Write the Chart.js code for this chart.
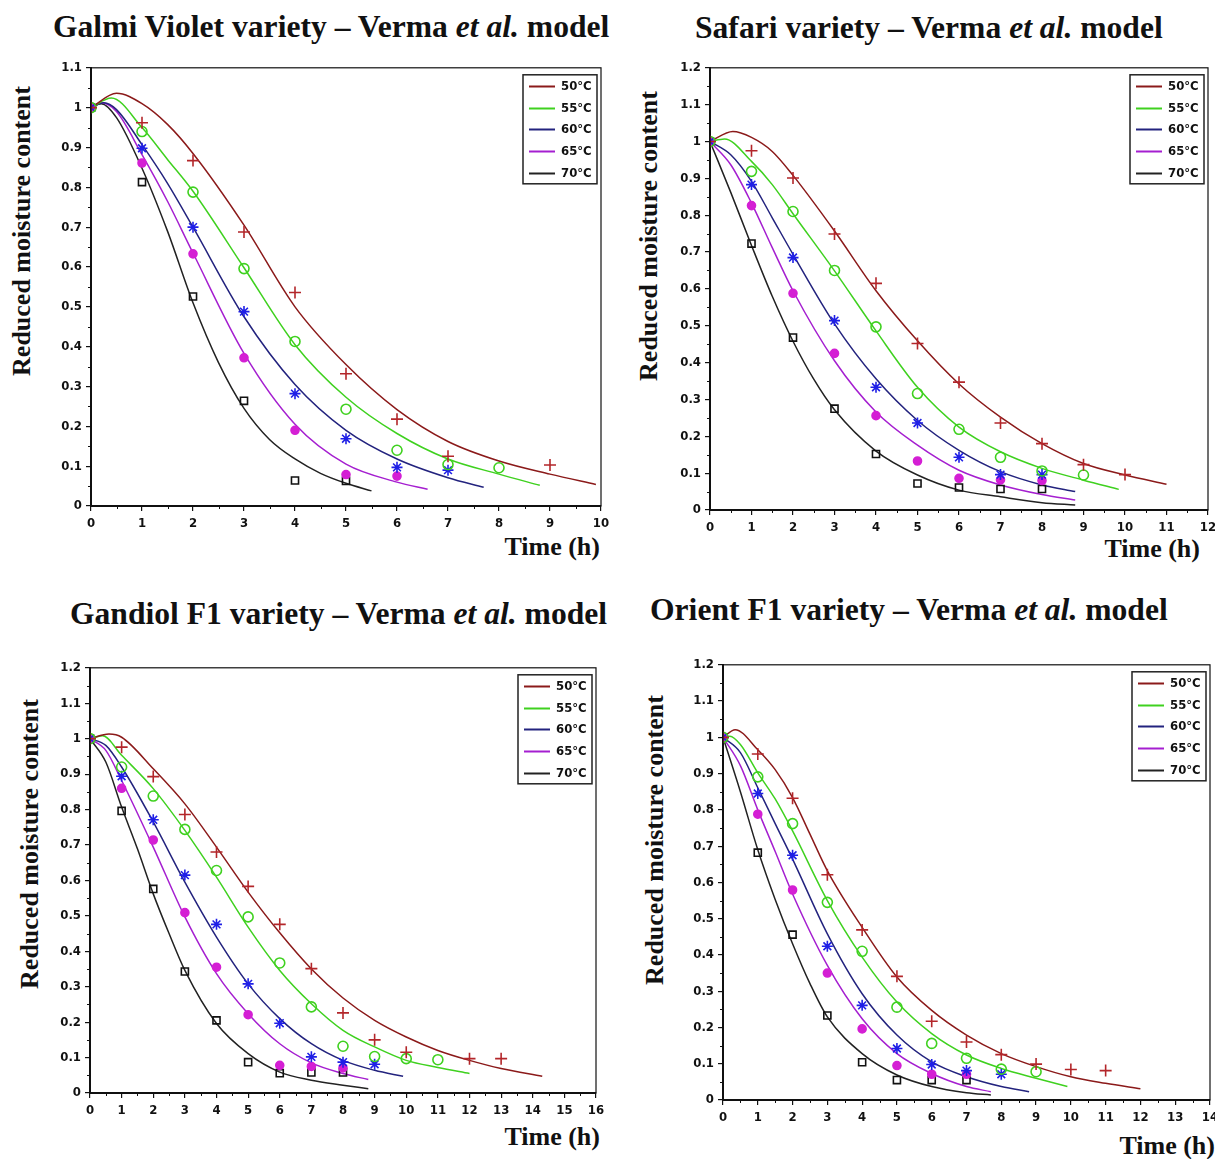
<!DOCTYPE html>
<html>
<head>
<meta charset="utf-8">
<script src="https://cdn.jsdelivr.net/npm/chart.js@4.4.1/dist/chart.umd.min.js"></script>
<style>
  body { margin: 0; background: #fff; width: 1215px; height: 1159px; position: relative; overflow: hidden; }
  canvas { position: absolute; }
  .title { position: absolute; font: bold 31.6px "Liberation Serif", "Times New Roman", serif; white-space: nowrap; color: #111; line-height: 1; }
  .ytitle { position: absolute; font: bold 26px "Liberation Serif", "Times New Roman", serif; white-space: nowrap; color: #111; line-height: 1;
            transform: translate(-50%, -50%) rotate(-90deg); }
  .xtitle { position: absolute; font: bold 26px "Liberation Serif", "Times New Roman", serif; white-space: nowrap; color: #111; line-height: 1; }
</style>
</head>
<body>
<div class="title" style="left:53px;top:11px">Galmi Violet variety – Verma <i>et al.</i> model</div>
<div class="title" style="left:695px;top:12px">Safari variety – Verma <i>et al.</i> model</div>
<div class="title" style="left:70px;top:598px">Gandiol F1 variety – Verma <i>et al.</i> model</div>
<div class="title" style="left:650px;top:594px">Orient F1 variety – Verma <i>et al.</i> model</div>

<div class="ytitle" style="left:22px;top:231px">Reduced moisture content</div>
<div class="ytitle" style="left:649px;top:236px">Reduced moisture content</div>
<div class="ytitle" style="left:30px;top:844px">Reduced moisture content</div>
<div class="ytitle" style="left:655px;top:840px">Reduced moisture content</div>

<div class="xtitle" style="right:615px;top:534px">Time (h)</div>
<div class="xtitle" style="right:15px;top:536px">Time (h)</div>
<div class="xtitle" style="right:615px;top:1124px">Time (h)</div>
<div class="xtitle" style="right:0px;top:1133px">Time (h)</div>

<canvas id="galmi"></canvas>
<canvas id="safari"></canvas>
<canvas id="gandiol"></canvas>
<canvas id="orient"></canvas>

<script>
// drying temperatures (legend)
const temps = [50, 55, 60, 65, 70];

// ---- Galmi Violet: measured points [time h, MR] ----
const galmiObs50 = [[0,1],[1,0.962],[2,0.867],[3,0.688],[4,0.536],[5,0.332],[6,0.218],[7,0.125],[9,0.103]];
const galmiObs55 = [[0,1],[1,0.94],[2,0.788],[3,0.596],[4,0.413],[5,0.243],[6,0.14],[7,0.104],[8,0.096]];
const galmiObs60 = [[0,1],[1,0.898],[2,0.70],[3,0.488],[4,0.282],[5,0.169],[6,0.097],[7,0.09]];
const galmiObs65 = [[0,1],[1,0.861],[2,0.633],[3,0.372],[4,0.19],[5,0.079],[6,0.075]];
const galmiObs70 = [[0,1],[1,0.813],[2,0.526],[3,0.264],[4,0.064],[5,0.063]];
// Galmi Violet: model curves
const galmiFit50 = [[0,1],[0.5,1.036],[1,1.01],[1.5,0.958],[2,0.885],[3,0.705],[4,0.5],[5,0.355],[6,0.242],[7,0.162],[8,0.113],[9,0.08],[9.9,0.054]];
const galmiFit55 = [[0,1],[0.4,1.024],[1,0.95],[1.5,0.87],[2,0.79],[3,0.598],[4,0.405],[5,0.273],[6,0.182],[7,0.118],[8,0.08],[8.8,0.052]];
const galmiFit60 = [[0,1],[0.25,1.012],[0.5,0.995],[1,0.907],[1.5,0.81],[2,0.7],[3,0.475],[4,0.305],[5,0.19],[6,0.118],[7,0.071],[7.7,0.047]];
const galmiFit65 = [[0,1],[0.2,1.012],[0.5,0.99],[1,0.882],[1.5,0.765],[2,0.635],[3,0.383],[4,0.205],[5,0.105],[6,0.06],[6.6,0.042]];
const galmiFit70 = [[0,1],[0.2,1.01],[0.5,0.975],[1,0.848],[1.5,0.69],[2,0.51],[2.5,0.36],[3,0.245],[3.5,0.167],[4,0.118],[4.5,0.082],[5,0.057],[5.5,0.038]];

// ---- Safari ----
const safariObs50 = [[0,1],[1,0.975],[2,0.901],[3,0.749],[4,0.615],[5,0.452],[6,0.347],[7,0.236],[8,0.18],[9,0.123],[10,0.096]];
const safariObs55 = [[0,1],[1,0.919],[2,0.81],[3,0.65],[4,0.497],[5,0.316],[6,0.219],[7,0.143],[8,0.106],[9,0.095]];
const safariObs60 = [[0,1],[1,0.883],[2,0.685],[3,0.514],[4,0.333],[5,0.236],[6,0.143],[7,0.096],[8,0.096]];
const safariObs65 = [[0,1],[1,0.826],[2,0.588],[3,0.425],[4,0.256],[5,0.133],[6,0.086],[7,0.082],[8,0.08]];
const safariObs70 = [[0,1],[1,0.723],[2,0.468],[3,0.275],[4,0.152],[5,0.072],[6,0.061],[7,0.057],[8,0.057]];
const safariFit50 = [[0,1],[0.55,1.027],[1,1.011],[1.5,0.973],[2,0.908],[3,0.757],[4,0.595],[5,0.459],[6,0.342],[7,0.252],[8,0.18],[9,0.126],[10,0.095],[11,0.07]];
const safariFit55 = [[0,1],[0.35,1.007],[1,0.946],[1.5,0.883],[2,0.804],[3,0.649],[4,0.486],[5,0.333],[6,0.225],[7,0.158],[8,0.113],[9,0.081],[9.85,0.056]];
const safariFit60 = [[0,1],[0.5,0.964],[1,0.892],[1.5,0.793],[2,0.694],[3,0.505],[4,0.356],[5,0.243],[6,0.162],[7,0.104],[8,0.068],[8.8,0.05]];
const safariFit65 = [[0,1],[0.5,0.937],[1,0.833],[1.5,0.712],[2,0.595],[3,0.405],[4,0.266],[5,0.176],[6,0.108],[7,0.068],[8,0.042],[8.8,0.027]];
const safariFit70 = [[0,1],[0.5,0.862],[1,0.718],[1.5,0.58],[2,0.458],[2.5,0.355],[3,0.272],[4,0.16],[5,0.095],[6,0.054],[7,0.036],[8,0.02],[8.8,0.0135]];

// ---- Gandiol F1 ----
const gandiolObs50 = [[0,1],[1,0.976],[2,0.893],[3,0.786],[4,0.68],[5,0.583],[6,0.476],[7,0.351],[8,0.226],[9,0.15],[10,0.115],[12,0.097],[13,0.097]];
const gandiolObs55 = [[0,1],[1,0.92],[2,0.838],[3,0.744],[4,0.628],[5,0.497],[6,0.367],[7,0.243],[8,0.132],[9,0.103],[10,0.097],[11,0.094]];
const gandiolObs60 = [[0,1],[1,0.894],[2,0.771],[3,0.615],[4,0.476],[5,0.308],[6,0.197],[7,0.102],[8,0.087],[9,0.081]];
const gandiolObs65 = [[0,1],[1,0.86],[2,0.714],[3,0.509],[4,0.355],[5,0.221],[6,0.078],[7,0.075],[8,0.071]];
const gandiolObs70 = [[0,1],[1,0.796],[2,0.576],[3,0.343],[4,0.205],[5,0.087],[6,0.056],[7,0.058],[8,0.058]];
const gandiolFit50 = [[0,1],[0.6,1.013],[1,1.004],[2,0.915],[3,0.816],[4,0.694],[5,0.567],[6,0.452],[7,0.35],[8,0.268],[9,0.205],[10,0.158],[11,0.12],[12,0.092],[13,0.069],[14.3,0.047]];
const gandiolFit55 = [[0,1],[0.4,1.008],[1,0.953],[2,0.859],[3,0.741],[4,0.609],[5,0.468],[6,0.346],[7,0.252],[8,0.177],[9,0.13],[10,0.092],[11,0.072],[12,0.055]];
const gandiolFit60 = [[0,1],[0.5,0.981],[1,0.92],[2,0.765],[3,0.595],[4,0.44],[5,0.308],[6,0.21],[7,0.139],[8,0.092],[9,0.064],[9.9,0.047]];
const gandiolFit65 = [[0,1],[0.5,0.967],[1,0.882],[2,0.694],[3,0.497],[4,0.337],[5,0.224],[6,0.139],[7,0.085],[8,0.055],[8.8,0.038]];
const gandiolFit70 = [[0,1],[0.5,0.934],[1,0.807],[1.5,0.689],[2,0.562],[2.5,0.45],[3,0.346],[4,0.196],[5,0.111],[6,0.059],[7,0.036],[8,0.022],[8.8,0.012]];

// ---- Orient F1 ----
const orientObs50 = [[0,1],[1,0.954],[2,0.832],[3,0.621],[4,0.469],[5,0.341],[6,0.217],[7,0.16],[8,0.125],[9,0.099],[10,0.084],[11,0.081]];
const orientObs55 = [[0,1],[1,0.891],[2,0.762],[3,0.545],[4,0.41],[5,0.256],[6,0.156],[7,0.115],[8,0.085],[9,0.078]];
const orientObs60 = [[0,1],[1,0.845],[2,0.675],[3,0.424],[4,0.261],[5,0.142],[6,0.098],[7,0.081],[8,0.071]];
const orientObs65 = [[0,1],[1,0.788],[2,0.579],[3,0.35],[4,0.196],[5,0.095],[6,0.071],[7,0.071]];
const orientObs70 = [[0,1],[1,0.682],[2,0.456],[3,0.233],[4,0.104],[5,0.055],[6,0.055],[7,0.055]];
const orientFit50 = [[0,1],[0.35,1.021],[1,0.966],[1.5,0.911],[2,0.834],[2.5,0.733],[3,0.632],[4,0.476],[5,0.339],[6,0.247],[7,0.179],[8,0.128],[9,0.092],[10,0.064],[11,0.046],[12,0.031]];
const orientFit55 = [[0,1],[0.2,1.003],[0.5,0.98],[1,0.902],[1.5,0.83],[2,0.742],[3,0.55],[4,0.394],[5,0.27],[6,0.183],[7,0.124],[8,0.087],[9,0.06],[9.9,0.037]];
const orientFit60 = [[0,1],[0.5,0.958],[1,0.861],[1.5,0.762],[2,0.664],[3,0.458],[4,0.293],[5,0.179],[6,0.105],[7,0.064],[8,0.037],[8.8,0.023]];
const orientFit65 = [[0,1],[0.5,0.922],[1,0.8],[1.5,0.685],[2,0.568],[3,0.371],[4,0.224],[5,0.128],[6,0.073],[7,0.037],[7.7,0.023]];
const orientFit70 = [[0,1],[0.5,0.85],[1,0.69],[1.5,0.553],[2,0.431],[2.5,0.321],[3,0.229],[4,0.128],[5,0.069],[6,0.037],[7,0.02],[7.7,0.014]];

// styling per temperature
const lineColors = ['#8b1a1a', '#3fd11f', '#23237e', '#a51fd0', '#222222'];
const markColors = ['#b3262a', '#3fd11f', '#1f1fe6', '#d41fd4', '#111111'];
const markStyles = ['cross', 'circle', 'star', 'circle', 'rect'];
const markFilled = [false, false, false, true, false];
const markRadius = [6, 5, 5.5, 4, 5];

const narrow = '"Liberation Sans Narrow", "DejaVu Sans Condensed", sans-serif';
const tickFont = { family: narrow, size: 13, weight: 'bold' };

const panels = [
  { id: 'galmi', plot: { left: 91, top: 66, right: 601, bottom: 506 }, xMax: 10, yMax: 1.1,
    obs: [galmiObs50, galmiObs55, galmiObs60, galmiObs65, galmiObs70],
    fit: [galmiFit50, galmiFit55, galmiFit60, galmiFit65, galmiFit70] },
  { id: 'safari', plot: { left: 710, top: 66, right: 1208, bottom: 510 }, xMax: 12, yMax: 1.2,
    obs: [safariObs50, safariObs55, safariObs60, safariObs65, safariObs70],
    fit: [safariFit50, safariFit55, safariFit60, safariFit65, safariFit70] },
  { id: 'gandiol', plot: { left: 90, top: 666, right: 596, bottom: 1093 }, xMax: 16, yMax: 1.2,
    obs: [gandiolObs50, gandiolObs55, gandiolObs60, gandiolObs65, gandiolObs70],
    fit: [gandiolFit50, gandiolFit55, gandiolFit60, gandiolFit65, gandiolFit70] },
  { id: 'orient', plot: { left: 723, top: 663, right: 1210, bottom: 1100 }, xMax: 14, yMax: 1.2,
    obs: [orientObs50, orientObs55, orientObs60, orientObs65, orientObs70],
    fit: [orientFit50, orientFit55, orientFit60, orientFit65, orientFit70] },
];

const AXIS_W = 48, AXIS_H = 32, PAD_TOP = 10, PAD_RIGHT = 14;

// box around the plot + minor ticks
const frame = {
  id: 'frame',
  afterDraw(chart) {
    const { ctx, chartArea: a, scales: { x, y } } = chart;
    ctx.save();
    ctx.strokeStyle = '#111';
    ctx.lineWidth = 1.2;
    ctx.strokeRect(a.left, a.top, a.right - a.left, a.bottom - a.top);
    ctx.lineWidth = 1;
    ctx.beginPath();
    for (let v = 0.5; v < x.max; v += 1) {
      const px = Math.round(x.getPixelForValue(v)) + 0.5;
      ctx.moveTo(px, a.bottom); ctx.lineTo(px, a.bottom + 3);
    }
    for (let v = 0.05; v < y.max; v += 0.1) {
      const py = Math.round(y.getPixelForValue(v)) + 0.5;
      ctx.moveTo(a.left, py); ctx.lineTo(a.left - 3, py);
    }
    ctx.stroke();
    ctx.restore();
  }
};

// legend box in the top right corner of the plot
const legendBox = {
  id: 'legendBox',
  afterDraw(chart) {
    const { ctx, chartArea: a } = chart;
    const w = 74, h = 109, x0 = a.right - w - 4, y0 = a.top + 7;
    ctx.save();
    ctx.fillStyle = '#fff';
    ctx.fillRect(x0, y0, w, h);
    ctx.strokeStyle = '#222';
    ctx.lineWidth = 1.5;
    ctx.strokeRect(x0, y0, w, h);
    ctx.font = 'bold 13px ' + narrow;
    ctx.textBaseline = 'middle';
    temps.forEach((t, i) => {
      const yy = Math.round(y0 + 11 + i * 21.7) + 0.5;
      ctx.strokeStyle = lineColors[i];
      ctx.lineWidth = 2;
      ctx.beginPath();
      ctx.moveTo(x0 + 6, yy);
      ctx.lineTo(x0 + 32, yy);
      ctx.stroke();
      ctx.fillStyle = '#111';
      ctx.fillText(t + '°C', x0 + 38, yy);
    });
    ctx.restore();
  }
};

const toXY = arr => arr.map(([t, v]) => ({ x: t, y: v }));

panels.forEach(p => {
  const canvas = document.getElementById(p.id);
  const w = p.plot.right - p.plot.left + AXIS_W + PAD_RIGHT;
  const h = p.plot.bottom - p.plot.top + PAD_TOP + AXIS_H;
  canvas.style.left = (p.plot.left - AXIS_W) + 'px';
  canvas.style.top = (p.plot.top - PAD_TOP) + 'px';
  canvas.style.width = w + 'px';
  canvas.style.height = h + 'px';
  canvas.width = w;
  canvas.height = h;

  const datasets = [];
  // markers first so they sit on top of the curves
  temps.forEach((t, i) => {
    datasets.push({
      label: t + '°C data',
      data: toXY(p.obs[i]),
      showLine: false,
      pointStyle: markStyles[i],
      pointRadius: markRadius[i],
      borderColor: markColors[i],
      backgroundColor: markFilled[i] ? markColors[i] : 'rgba(0,0,0,0)',
      borderWidth: 1.6,
    });
  });
  temps.forEach((t, i) => {
    datasets.push({
      label: t + '°C',
      data: toXY(p.fit[i]),
      showLine: true,
      pointRadius: 0,
      borderColor: lineColors[i],
      borderWidth: 1.5,
      cubicInterpolationMode: 'monotone',
      fill: false,
    });
  });

  new Chart(canvas, {
    type: 'scatter',
    data: { datasets },
    options: {
      responsive: false,
      animation: false,
      layout: { padding: { top: PAD_TOP, right: PAD_RIGHT, left: 0, bottom: 0 } },
      plugins: { legend: { display: false }, tooltip: { enabled: false } },
      scales: {
        x: {
          type: 'linear', min: 0, max: p.xMax,
          ticks: { stepSize: 1, font: tickFont, color: '#111', padding: 5, maxRotation: 0, autoSkip: false },
          grid: { drawOnChartArea: false, drawTicks: true, tickLength: 5, color: '#111', lineWidth: 1.2 },
          border: { color: '#111', width: 2 },
          afterFit: s => { s.height = AXIS_H; },
        },
        y: {
          min: 0, max: p.yMax,
          ticks: { stepSize: 0.1, font: tickFont, color: '#111', padding: 4,
                   callback: v => String(+v.toFixed(2)) },
          grid: { drawOnChartArea: false, drawTicks: true, tickLength: 5, color: '#111', lineWidth: 1.2 },
          border: { color: '#111', width: 2 },
          afterFit: s => { s.width = AXIS_W; },
        },
      },
    },
    plugins: [frame, legendBox],
  });
});
</script>
</body>
</html>
